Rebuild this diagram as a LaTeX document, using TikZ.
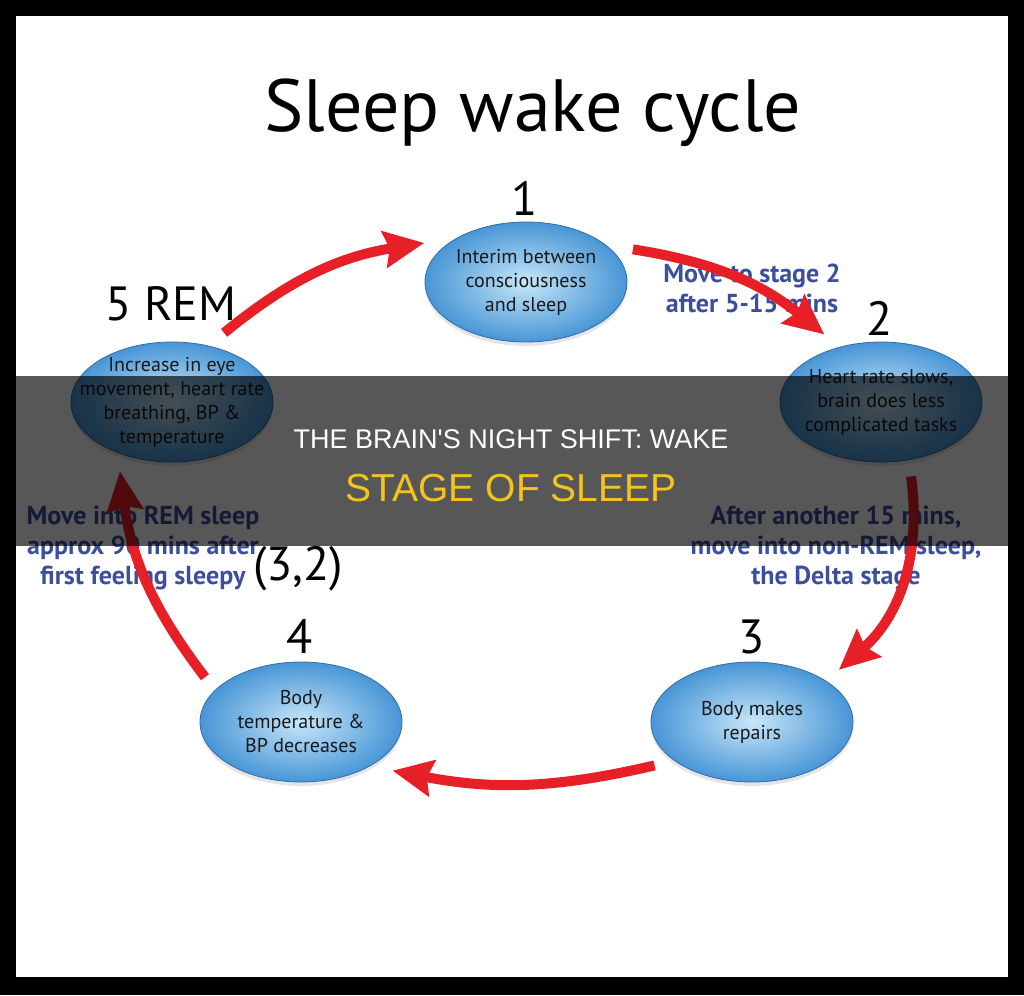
\documentclass[tikz,border=0pt]{standalone}
\usepackage{fontspec}
\setmainfont{PT Sans}
\newfontfamily\bannerfont{Liberation Sans}
\usetikzlibrary{arrows.meta,shadows,shapes.geometric}

\definecolor{stageblue}{RGB}{72,150,214}
\definecolor{stagelight}{RGB}{200,230,249}
\definecolor{stageedge}{RGB}{50,108,170}
\definecolor{cyclered}{RGB}{230,32,38}
\definecolor{noteblue}{RGB}{60,78,158}
\definecolor{bannergold}{RGB}{245,195,30}

\tikzset{
  stage/.style={ellipse, minimum width=202pt, minimum height=120pt, inner sep=-40pt,
    outer sep=17pt, shading=radial, inner color=stagelight, outer color=stageblue,
    draw=stageedge, line width=0.8pt, align=center, text=black!90,
    font=\fontsize{20}{24}\selectfont,
    drop shadow={opacity=0.2, shadow xshift=0pt, shadow yshift=-4pt}},
  stagenum/.style={anchor=base, font=\fontsize{48}{48}\selectfont},
  note/.style={align=center, text=noteblue, font=\bfseries\fontsize{26}{30}\selectfont},
  cyclearrow/.style={-{Stealth[width=36pt, length=40pt, inset=5pt]}, line width=10pt, cyclered}
}

\begin{document}
\begin{tikzpicture}[x=1pt, y=-1pt]
    \useasboundingbox (0,0) rectangle (1024,995);
    % Frame
    \fill[black] (0,0) rectangle (1024,995);
    \fill[white] (16,16) rectangle (1008,977);
    \node[anchor=base, font=\fontsize{74}{74}\selectfont] (title) at (533,132) {Sleep wake cycle};

    % Stages
    \foreach \nm/\x/\y/\txt in {
        s1/526/282/{Interim between\\consciousness\\and sleep},
        s2/881/402/{Heart rate slows,\\brain does less\\complicated tasks},
        s3/752/722/{Body makes\\repairs},
        s4/301/722/{Body\\temperature \&\\BP decreases},
        s5/172/402/{Increase in eye\\movement, heart rate\\breathing, BP \&\\temperature}} {
        \node[stage] (\nm) at (\x,\y) {\txt};
    }
    \foreach \nm/\x/\y/\txt in {n1/525/215/1, n2/880/335/2, n3/752/653/3,
        n4/300/653/4, n5/171/320/5 REM, pair/298/580/{(3,2)}} {
        \node[stagenum] (\nm) at (\x,\y) {\txt};
    }

    % Notes
    \node[note] (note12) at (752,288) {Move to stage 2\\after 5-15 mins};
    \node[note] (note23) at (836,548) {After another 15 mins,\\move into non-REM sleep,\\the Delta stage};
    \node[note] (note45) at (143,548) {Move into REM sleep\\approx 90 mins after\\first feeling sleepy};

    % Cycle arrows
    \foreach \src/\sa/\dst/\da/\bend in {s5/53/s1/159/15, s1/17/s2/130/15,
        s2/-68/s3/31/28, s3/204/s4/-28/12, s4/155/s5/-127/15} {
        \draw[cyclearrow] (\src.\sa) to[bend left=\bend] (\dst.\da);
    }

    % Banner
    \fill[black, opacity=0.66] (0,376) rectangle (1024,546);
    \node[anchor=base, text=white, font=\bannerfont\fontsize{27}{27}\selectfont] (head1) at (511,448) {THE BRAIN'S NIGHT SHIFT: WAKE};
    \node[anchor=base, text=bannergold, font=\bannerfont\fontsize{39}{39}\selectfont] (head2) at (511,501) {STAGE OF SLEEP};
\end{tikzpicture}
\end{document}
